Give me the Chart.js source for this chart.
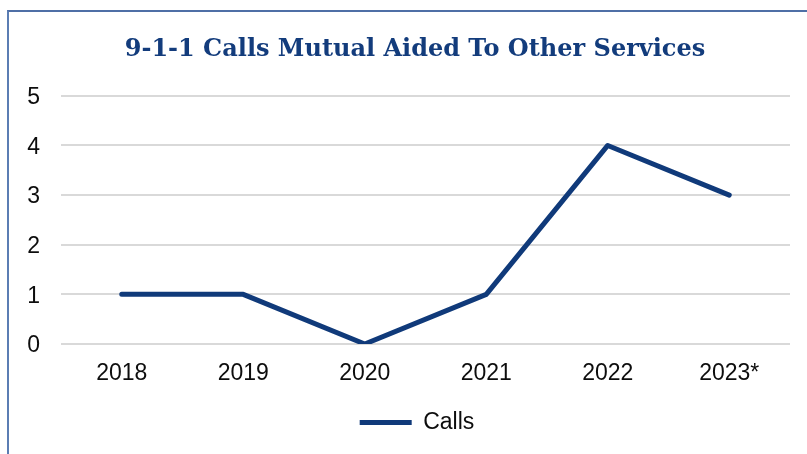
<!DOCTYPE html>
<html>
<head>
<meta charset="utf-8">
<script src="https://cdn.jsdelivr.net/npm/chart.js@4"></script>
<style>
  html, body { margin: 0; padding: 0; background: #fff; }
  #wrap { position: relative; width: 807px; height: 454px; overflow: hidden; }
  #frame { position: absolute; left: 7px; top: 10px; width: 820px; height: 460px;
           border-top: 2px solid #4f6fa6; border-left: 2px solid #5b7db3; box-sizing: border-box; }
  canvas { position: absolute; left: 0; top: 0; }
</style>
</head>
<body>
<div id="wrap">
  <div id="frame"></div>
  <canvas id="c" width="807" height="454"></canvas>
</div>
<script>
const categories = ["2018", "2019", "2020", "2021", "2022", "2023*"];
const calls = [1, 1, 0, 1, 4, 3];
const yTicks = [0, 1, 2, 3, 4, 5];
const titleText = "9-1-1 Calls Mutual Aided To Other Services";
const seriesName = "Calls";
const lineColor = "#103a7a";
const tickFont = { family: "'Liberation Sans', Arial, sans-serif", size: 23 };

// shift title and legend boxes so they are centred like the original
const shiftBlocks = {
  id: "shiftBlocks",
  afterLayout(chart) {
    if (chart.titleBlock) chart.titleBlock.left += 40;
    if (chart.legend) chart.legend.left += 44;
  }
};

new Chart(document.getElementById("c"), {
  type: "line",
  data: {
    labels: categories,
    datasets: [{
      label: seriesName,
      data: calls,
      borderColor: lineColor,
      backgroundColor: lineColor,
      borderWidth: 5,
      borderCapStyle: "round",
      borderJoinStyle: "round",
      pointRadius: 0,
      pointHoverRadius: 0,
      tension: 0,
      fill: false
    }]
  },
  plugins: [shiftBlocks],
  options: {
    responsive: false,
    animation: false,
    devicePixelRatio: 1,
    layout: { padding: { left: 0, right: 17, top: 0, bottom: 10 } },
    plugins: {
      title: {
        display: true,
        text: titleText,
        color: "#133c7c",
        font: { family: "'DejaVu Serif', serif", weight: "bold", size: 24 },
        padding: { top: 35, bottom: 32 }
      },
      legend: {
        display: true,
        position: "bottom",
        labels: {
          usePointStyle: true,
          pointStyle: "line",
          pointStyleWidth: 52,
          boxHeight: 5,
          color: "#0d0d0d",
          font: tickFont,
          padding: 10
        }
      },
      tooltip: { enabled: false }
    },
    scales: {
      x: {
        offset: true,
        grid: { display: false, drawTicks: false },
        border: { display: false },
        afterFit: (scale) => { scale.height = 57; },
        ticks: { color: "#0d0d0d", font: tickFont, padding: 16 }
      },
      y: {
        min: 0,
        max: 5,
        afterBuildTicks: (axis) => { axis.ticks = yTicks.map(v => ({ value: v })); },
        afterFit: (scale) => { scale.width = 61; },
        grid: { color: "#d9d9d9", lineWidth: 2, drawTicks: false },
        border: { display: false },
        ticks: { color: "#0d0d0d", font: tickFont, padding: 21, labelOffset: 2 }
      }
    }
  }
});
</script>
</body>
</html>
